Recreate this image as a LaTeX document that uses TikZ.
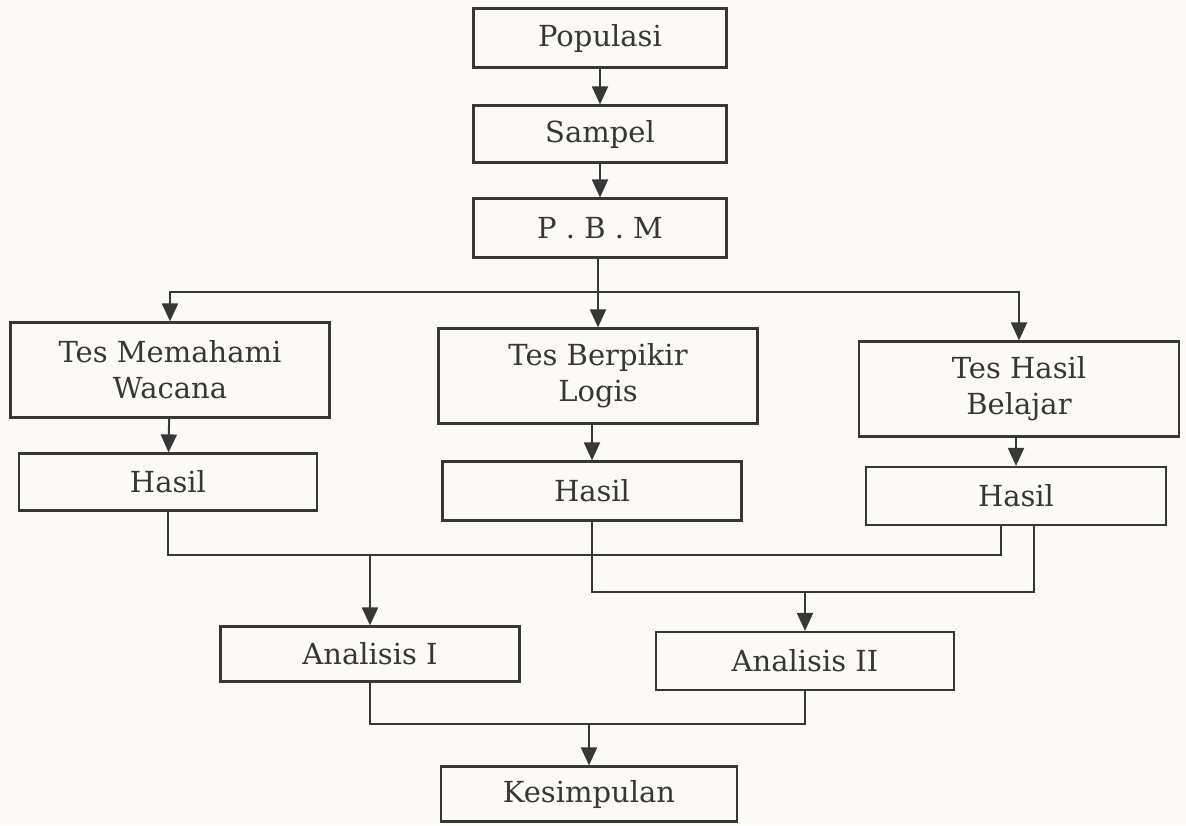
\documentclass[tikz,border=0pt]{standalone}
\usepackage{fontspec}
\setmainfont{DejaVu Serif}
\usetikzlibrary{arrows.meta}

\definecolor{paper}{RGB}{251,250,246}
\definecolor{ink}{RGB}{55,55,55}

\begin{document}
\begin{tikzpicture}
  [x=0.5pt,y=-0.5pt
  ,box/.style={draw=ink,line width=1.1pt,inner sep=0pt,align=center,
     text=ink,font=\fontsize{14.5}{18}\selectfont}
  ,link/.style={draw=ink,line width=1pt}
  ,arr/.style={link,-{Triangle[length=9pt,width=8pt]}}
  ]

  % page
  \fill[paper] (0,0) rectangle (1186,825);
  \useasboundingbox (0,0) rectangle (1186,825);

  % top column
  \node[box,minimum width=126.5pt,minimum height=29.5pt] (pop) at (600,38) {Populasi};
  \node[box,minimum width=126.5pt,minimum height=28.5pt] (samp) at (600,134) {Sampel};
  \node[box,minimum width=126.5pt,minimum height=29.5pt] (pbm) at (600,228) {P . B . M};

  % tests
  \node[box,minimum width=159.5pt,minimum height=47.5pt] (tmw) at (170,370) {Tes Memahami\\Wacana};
  \node[box,minimum width=159.5pt,minimum height=47.5pt] (tbl) at (598,376) {Tes Berpikir\\Logis};
  \node[box,minimum width=160pt,minimum height=47.5pt] (thb) at (1019,389) {Tes Hasil\\Belajar};

  % results
  \node[box,minimum width=149pt,minimum height=28.5pt] (hsa) at (168,482) {Hasil};
  \node[box,minimum width=149.5pt,minimum height=29.5pt] (hsb) at (592,491) {Hasil};
  \node[box,minimum width=150pt,minimum height=29pt] (hsc) at (1016,496) {Hasil};

  % analysis
  \node[box,minimum width=149.5pt,minimum height=27.5pt] (ana) at (370,654) {Analisis I};
  \node[box,minimum width=149pt,minimum height=29pt] (anb) at (805,661) {Analisis II};
  \node[box,minimum width=148pt,minimum height=27.5pt] (kes) at (589,794) {Kesimpulan};

  % junction points
  \coordinate (split) at (598,292);
  \coordinate (ja) at (0,555);
  \coordinate (jb) at (0,592);
  \coordinate (jc) at (0,724);

  % top flow
  \draw[arr] (pop) -- (samp);
  \draw[arr] (samp) -- (pbm);
  \draw[link] (pbm.south -| split) -- (split);
  \draw[arr] (split) -| (tmw.north);
  \draw[arr] (split) -- (tbl.north);
  \draw[arr] (split) -| (thb.north);

  \draw[arr] (tmw) -- (hsa);
  \draw[arr] (tbl.south -| hsb.north) -- (hsb.north);
  \draw[arr] (thb.south -| hsc.north) -- (hsc.north);

  % results to Analisis I
  \draw[link] (hsa.south) -- (hsa.south |- ja) -- ([xshift=-7.5pt]hsc.south |- ja) -- ([xshift=-7.5pt]hsc.south);
  \draw[arr] (ana.north |- ja) -- (ana.north);

  % results to Analisis II
  \draw[link] (hsb.south) -- (hsb.south |- jb) -- ([xshift=9pt]hsc.south |- jb) -- ([xshift=9pt]hsc.south);
  \draw[arr] (anb.north |- jb) -- (anb.north);

  % conclusion
  \draw[link] (ana.south) -- (ana.south |- jc) -- (anb.south |- jc) -- (anb.south);
  \draw[arr] (kes.north |- jc) -- (kes.north);

\end{tikzpicture}
\end{document}
